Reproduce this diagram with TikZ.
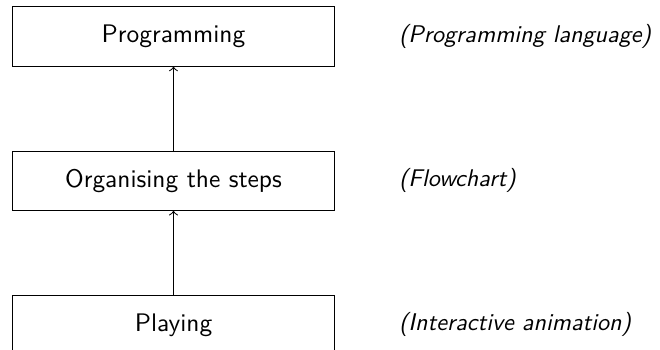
\documentclass[tikz,border=0pt]{standalone}
\usetikzlibrary{positioning}
\begin{document}
\begin{tikzpicture}[font=\sffamily,
    blocco/.style={draw, minimum width=4.45cm, minimum height=0.82cm},
    nota/.style={font=\sffamily\itshape, scale=0.95, transform shape}]
    \useasboundingbox (-2.40,-4.325) rectangle (6.73,0.505);

    % Blocchi principali
    \node[blocco] (prog) at (0,0) {Programming};
    \node[blocco, below=1.16cm of prog] (flow) {Organising the steps};
    \node[blocco, below=1.16cm of flow] (play) {Playing};

    % Note a destra dei blocchi
    \node[nota, right=0.77cm of prog] (progn) {(Programming language)};
    \node[nota, right=0.77cm of flow] (flown) {(Flowchart)};
    \node[nota, right=0.77cm of play] (playn) {(Interactive animation)};

    % Frecce verso l'alto
    \draw[->] (flow) -- (prog);
    \draw[->] (play) -- (flow);
\end{tikzpicture}
\end{document}
